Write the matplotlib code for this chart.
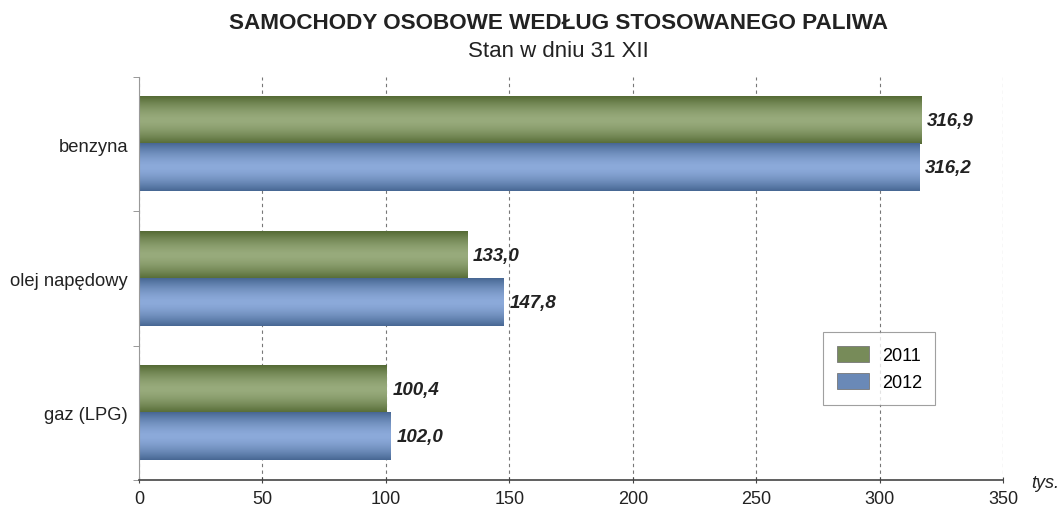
import matplotlib
matplotlib.use("Agg")
import matplotlib.pyplot as plt
import numpy as np
from matplotlib.patches import Patch

categories = ["benzyna", "olej napędowy", "gaz (LPG)"]
years = ["2011", "2012"]
values_2011 = [316.9, 133.0, 100.4]
values_2012 = [316.2, 147.8, 102.0]
labels_2011 = ["316,9", "133,0", "100,4"]
labels_2012 = ["316,2", "147,8", "102,0"]
xticks = [0, 50, 100, 150, 200, 250, 300, 350]

plt.rcParams['font.family'] = ['Liberation Sans', 'DejaVu Sans']

fig = plt.figure(figsize=(10.59, 5.06), dpi=100)
ax = fig.add_axes([0.1313, 0.0494, 0.8159, 0.7964])

h = 0.35
green_dark = np.array([0x55, 0x6b, 0x35]) / 255
green_light = np.array([0x98, 0xab, 0x7c]) / 255
blue_dark = np.array([0x48, 0x68, 0x94]) / 255
blue_light = np.array([0x8c, 0xaa, 0xda]) / 255

def grad(dark, light, n=64):
    t = np.linspace(-1, 1, n)
    w = 1 - np.abs(t) ** 1.6
    arr = dark[None, :] * (1 - w[:, None]) + light[None, :] * w[:, None]
    return arr[:, None, :]

g_img = grad(green_dark, green_light)
b_img = grad(blue_dark, blue_light)

lab_kw = dict(va='center', ha='left', fontsize=13.5, fontweight='bold',
              fontstyle='italic', color='#222222', zorder=4)

ypos = np.arange(len(categories))
for i in range(len(categories)):
    for vals, img, off in ((values_2011, g_img, -h / 2), (values_2012, b_img, h / 2)):
        v = vals[i]
        yc = ypos[i] + off
        ax.imshow(img, extent=[0, v, yc + h / 2, yc - h / 2], aspect='auto',
                  interpolation='bilinear', zorder=2)
    ax.text(values_2011[i] + 2.2, ypos[i] - h / 2, labels_2011[i], **lab_kw)
    ax.text(values_2012[i] + 2.2, ypos[i] + h / 2, labels_2012[i], **lab_kw)

ax.set_xlim(0, 350)
ax.set_ylim(2.5, -0.5)
ax.set_xticks(xticks)
ax.set_xticklabels([str(x) for x in xticks], fontsize=13, color='#222222')
ax.set_yticks(ypos)
ax.set_yticklabels(categories, fontsize=13.2, color='#222222')
ax.tick_params(axis='y', length=0, pad=8)
ax.set_yticks([-0.5, 0.5, 1.5, 2.5], minor=True)
ax.tick_params(axis='y', which='minor', length=4, color='#888888', direction='out')
ax.tick_params(axis='x', length=4, direction='inout', color='#444444', pad=5)

for s in ['top', 'right']:
    ax.spines[s].set_visible(False)
ax.spines['left'].set_color('#999999')
ax.spines['bottom'].set_color('#444444')
ax.spines['bottom'].set_linewidth(1.2)

ax.grid(axis='x', linestyle=(0, (3, 3)), color='#777777', linewidth=0.8, zorder=0)
ax.set_axisbelow(True)

fig.text(0.527, 0.953, "SAMOCHODY OSOBOWE WEDŁUG STOSOWANEGO PALIWA", ha='center', va='center',
         fontsize=16.2, fontweight='bold', color='#222222')
fig.text(0.527, 0.899, "Stan w dniu 31 XII", ha='center', va='center', fontsize=16, color='#222222')
fig.text(0.9736, 0.044, "tys.", ha='left', va='center', fontsize=13, fontstyle='italic', color='#222222')

handles = [Patch(facecolor=(green_dark + green_light) / 2, edgecolor='#777777', linewidth=0.6),
           Patch(facecolor=(blue_dark + blue_light) / 2, edgecolor='#777777', linewidth=0.6)]
leg = ax.legend(handles, years, loc='upper left', bbox_to_anchor=(0.7917, 0.367), fontsize=13,
                frameon=True, fancybox=False, edgecolor='#888888', handlelength=1.8, handleheight=1.0,
                borderpad=0.75, labelspacing=0.5, handletextpad=0.7, borderaxespad=0)
leg.get_frame().set_linewidth(0.8)

fig.savefig("out.png", dpi=100)
